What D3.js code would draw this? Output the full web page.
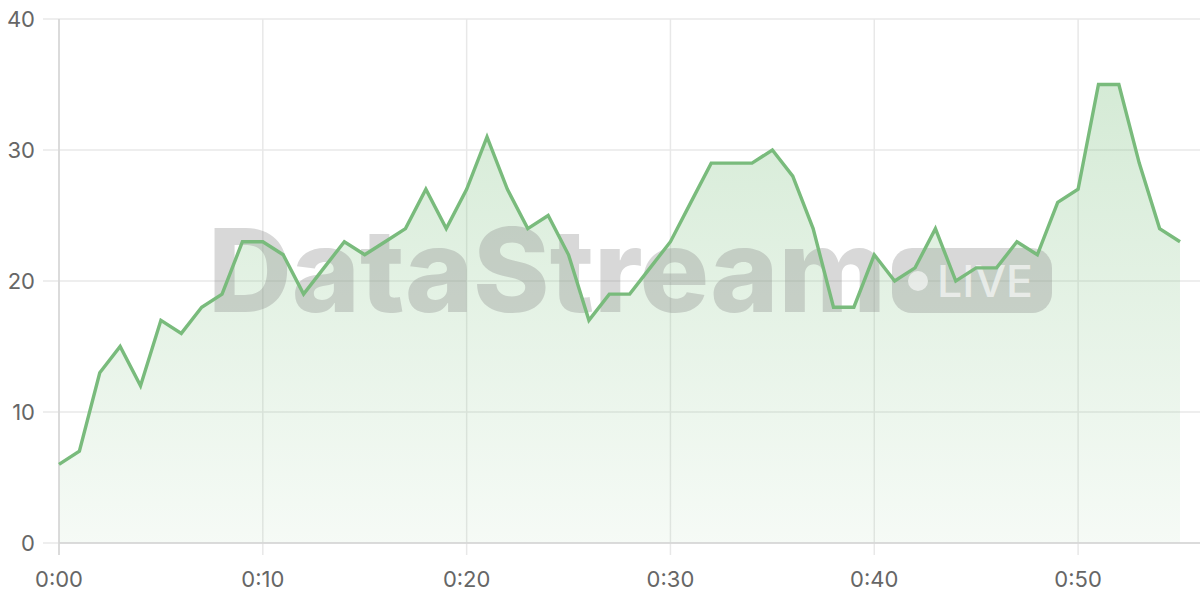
<!DOCTYPE html>
<html><head><meta charset="utf-8">
<script src="https://cdn.jsdelivr.net/npm/d3@7"></script>
<style>
html,body{margin:0;padding:0;background:#fff;}
svg{display:block;font-family:Inter,"Liberation Sans",Arial,sans-serif;}
</style></head>
<body><svg id="c" width="1200" height="600"></svg>
<script>
const minutes = d3.range(0, 56);
const values = [6,7,13,15,12,17,16,18,19,23,23,22,19,21,23,22,23,24,27,24,27,31,27,24,25,22,17,19,19,21,23,26,29,29,29,30,28,24,18,18,22,20,21,24,20,21,21,23,22,26,27,35,35,29,24,23];
const yTicks = [0,10,20,30,40];
const xTicks = [0,10,20,30,40,50];
const xTickLabels = ["0:00","0:10","0:20","0:30","0:40","0:50"];

const svg = d3.select("#c");
const W = 1200, H = 600;
const L = 59, R = 1180, T = 19, B = 543;
const x = d3.scaleLinear().domain([0,55]).range([L,R]);
const y = d3.scaleLinear().domain([0,40]).range([B,T]);

const defs = svg.append("defs");
const g = defs.append("linearGradient").attr("id","ag").attr("x1",0).attr("x2",0)
  .attr("gradientUnits","userSpaceOnUse").attr("y1", y(35)).attr("y2", y(0));
g.append("stop").attr("offset","0%").attr("stop-color","#7bbf7e").attr("stop-opacity",0.32);
g.append("stop").attr("offset","100%").attr("stop-color","#7bbf7e").attr("stop-opacity",0.07);

// grid
const grid = svg.append("g");
grid.selectAll("line.h").data(yTicks).join("line")
  .attr("x1", L-16).attr("x2", W).attr("y1", d=>y(d)).attr("y2", d=>y(d))
  .attr("stroke","#e8e8e8").attr("stroke-width",1.5);
grid.selectAll("line.v").data(xTicks).join("line")
  .attr("x1", d=>x(d)).attr("x2", d=>x(d)).attr("y1", T).attr("y2", B+12)
  .attr("stroke","#e8e8e8").attr("stroke-width",1.5);

// area
const data = minutes.map((m,i)=>({m, v: values[i]}));
svg.append("path").datum(data)
  .attr("d", d3.area().x(d=>x(d.m)).y0(y(0)).y1(d=>y(d.v)))
  .attr("fill","url(#ag)");

// axis lines
svg.append("line").attr("x1",L).attr("x2",L).attr("y1",T).attr("y2",B+12).attr("stroke","#d4d4d4").attr("stroke-width",1.5);
svg.append("line").attr("x1",L).attr("x2",W).attr("y1",B).attr("y2",B).attr("stroke","#d4d4d4").attr("stroke-width",1.5);

// watermark
const wm = svg.append("g").attr("opacity",0.33);
wm.append("text").attr("x",208).attr("y",312)
  .attr("font-family","Inter,'Liberation Sans',Arial,sans-serif").attr("font-weight",800)
  .attr("font-size",116).attr("fill","#8a8a8a").attr("textLength",678).attr("lengthAdjust","spacingAndGlyphs")
  .text("DataStream");
wm.append("rect").attr("x",892).attr("y",248).attr("width",160).attr("height",65).attr("rx",20).attr("fill","#8a8a8a");
const wm2 = svg.append("g").attr("opacity",0.6);
wm2.append("circle").attr("cx",918).attr("cy",281).attr("r",10).attr("fill","#fff");
wm2.append("text").attr("x",937).attr("y",297).attr("font-size",44).attr("fill","#fff").attr("font-weight",500)
  .attr("font-family","Inter,'Liberation Sans',Arial,sans-serif").attr("textLength",96).attr("lengthAdjust","spacingAndGlyphs").text("LIVE");

// line
svg.append("path").datum(data)
  .attr("d", d3.line().x(d=>x(d.m)).y(d=>y(d.v)))
  .attr("fill","none").attr("stroke","#79bb7c").attr("stroke-width",3.4).attr("stroke-linejoin","miter");

// labels
svg.append("g").selectAll("text").data(yTicks).join("text")
  .attr("x",35).attr("y",d=>y(d)).attr("dy","0.35em").attr("text-anchor","end")
  .attr("font-size",22).attr("fill","#666").text(d=>d);
svg.append("g").selectAll("text").data(xTicks).join("text")
  .attr("x",d=>x(d)).attr("y",579).attr("dy","0.35em").attr("text-anchor","middle")
  .attr("font-size",22).attr("fill","#666").text((d,i)=>xTickLabels[i]);
</script></body></html>
